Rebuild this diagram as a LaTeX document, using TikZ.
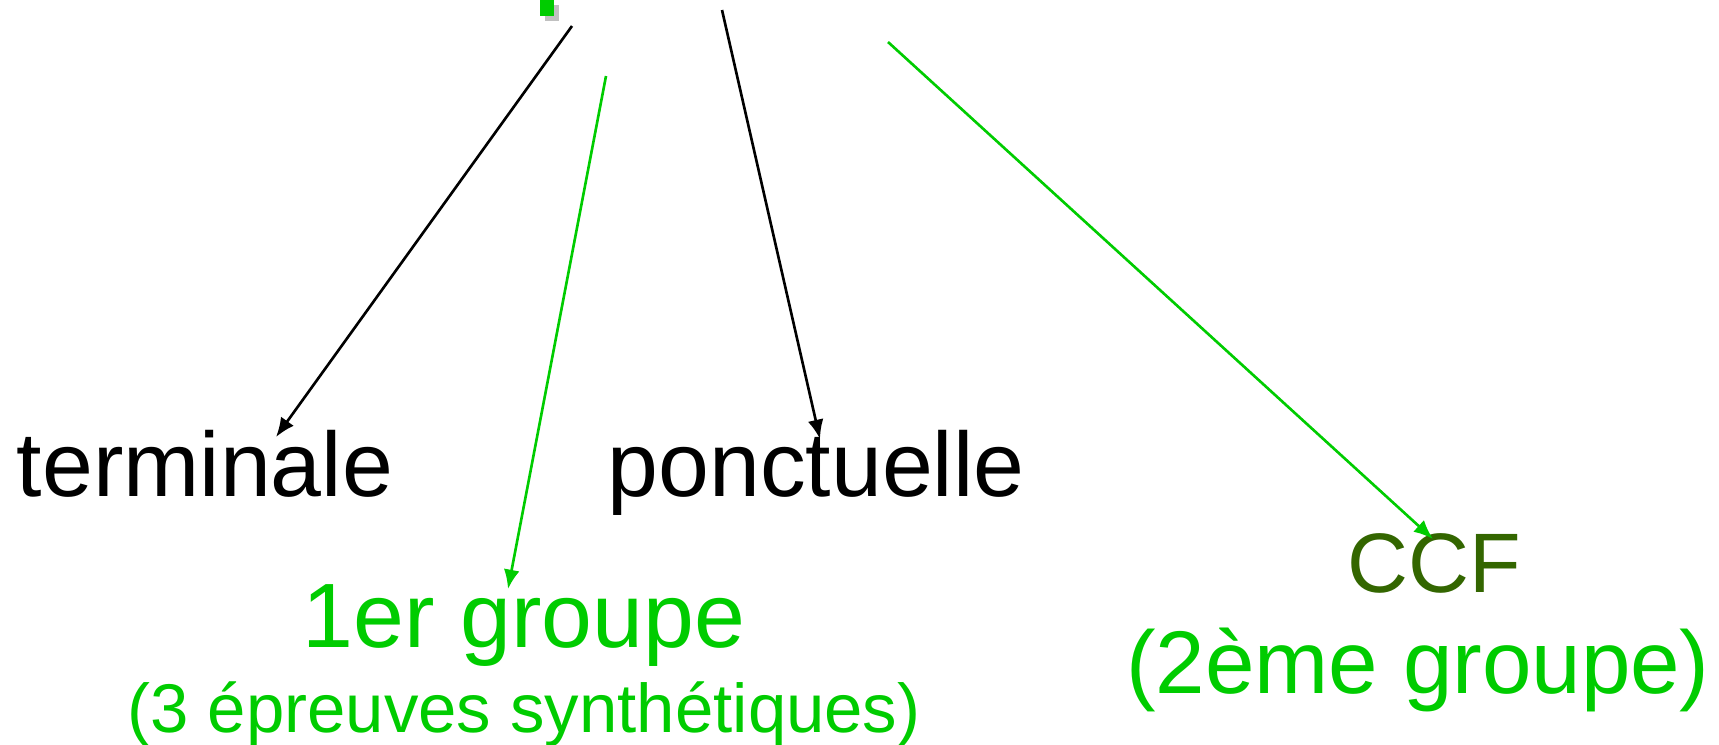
\documentclass[tikz,border=0pt]{standalone}
\usepackage{fontspec}
\setmainfont{Liberation Sans}
\usepackage{xcolor}
\usetikzlibrary{calc,arrows.meta}
\definecolor{brightgreen}{HTML}{00CC00}
\definecolor{darkgreen}{HTML}{336600}
\definecolor{shadowgray}{HTML}{C0C0C0}

\begin{document}
\begin{tikzpicture}[x=0.01cm,y=-0.01cm,
    bigtext/.style={inner sep=0pt, anchor=base, font=\fontsize{26}{30}\selectfont},
    smalltext/.style={inner sep=0pt, anchor=base, font=\fontsize{19.6}{24}\selectfont},
    blackarrow/.style={-{Latex[length=5.5pt,width=4.5pt]}, line width=0.75pt, black},
    greenarrow/.style={-{Latex[length=5.5pt,width=4.5pt]}, line width=0.75pt, brightgreen}]
    \useasboundingbox (0,0) rectangle (1719,744);

    % Marker at the top
    \fill [shadowgray] (545,5) rectangle (559,21);
    \fill [brightgreen] (540,0) rectangle (554,16);

    % Labels
    \node [bigtext] (term) at (205,496) {terminale};
    \node [bigtext] (ponct) at (816,496) {ponctuelle};
    \node [bigtext, text=brightgreen] (grp1) at (524,647) {1er groupe};
    \node [smalltext, text=brightgreen] (grp1sub) at (524,732) {(3 épreuves synthétiques)};
    \node [bigtext, text=darkgreen, font=\fontsize{24}{30}\selectfont] (ccf) at (1434,592) {CCF};
    \node [bigtext, text=brightgreen, font=\fontsize{25.3}{30}\selectfont] (ccfsub) at (1418,693) {(2ème groupe)};

    % Arrow starts
    \coordinate (s1) at (572,26);
    \coordinate (s2) at (606,76);
    \coordinate (s3) at (722,10);
    \coordinate (s4) at (888,42);

    % Arrows
    \draw [blackarrow] (s1) -- ($(term.base)+(71,-59)$);
    \draw [greenarrow] (s2) -- ($(grp1.base)+(-16,-58)$);
    \draw [blackarrow] (s3) -- ($(ponct.base)+(4,-57)$);
    \draw [greenarrow] (s4) -- ($(ccf.base)+(-1,-53)$);
\end{tikzpicture}
\end{document}
